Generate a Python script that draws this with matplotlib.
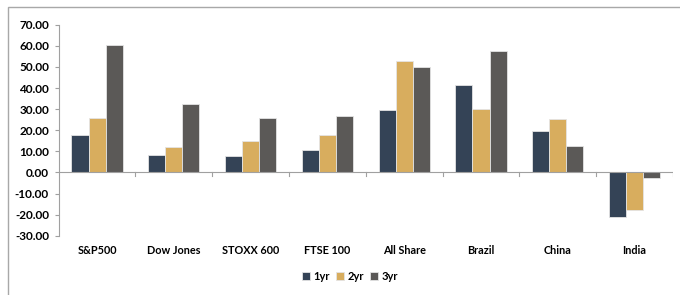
import matplotlib

matplotlib.use("Agg")
import matplotlib.pyplot as plt  # noqa: E402
import numpy as np  # noqa: E402
from matplotlib.patches import Rectangle  # noqa: E402

CATEGORIES = ["S&P500", "Dow Jones", "STOXX 600", "FTSE 100", "All Share", "Brazil", "China", "India"]
SERIES = ["1yr", "2yr", "3yr"]
ONE_YR = [17.8, 8.2, 7.7, 10.7, 29.6, 41.3, 19.6, -21.2]
TWO_YR = [25.9, 12.2, 14.7, 17.8, 52.7, 30.2, 25.3, -17.9]
THREE_YR = [60.3, 32.3, 25.8, 26.7, 49.8, 57.4, 12.3, -2.7]
YTICKS = [-30, -20, -10, 0, 10, 20, 30, 40, 50, 60, 70]
COLORS = ["#344356", "#D8AD5E", "#5B5957"]

plt.rcParams["font.family"] = ["Lato", "DejaVu Sans"]

W, H = 680, 295
fig = plt.figure(figsize=(W / 100, H / 100), dpi=100)
ax = fig.add_axes([58.7 / W, 1 - 235.7 / H, (673 - 58.7) / W, (235.7 - 24.8) / H])

x = np.arange(len(CATEGORIES))
w = 1 / 4.5
for i, (vals, lab) in enumerate(zip([ONE_YR, TWO_YR, THREE_YR], SERIES)):
    ax.bar(x + (i - 1) * w, vals, w, color=COLORS[i], label=lab,
           edgecolor="#e4e4e4", linewidth=0.6, zorder=2)

ax.set_xlim(-0.5, len(CATEGORIES) - 0.5)
ax.set_ylim(-30, 70)
ax.set_yticks(YTICKS)
ax.set_yticklabels([f"{v:.2f}" for v in YTICKS], fontsize=8.5, fontweight="bold")
ax.tick_params(axis="y", length=3, color="#a0a0a0", pad=4)

for s in ["top", "right", "bottom"]:
    ax.spines[s].set_visible(False)
ax.spines["left"].set_color("#a0a0a0")
ax.spines["left"].set_linewidth(0.8)
ax.axhline(0, color="#a0a0a0", lw=0.8, zorder=3)
ax.set_xticks([])
for b in np.arange(0.5, len(CATEGORIES), 1.0):
    ax.plot([b, b], [0, -1.5], color="#a0a0a0", lw=0.8, zorder=3)
for xi, c in zip(x, CATEGORIES):
    ax.text(xi, -37.0, c, ha="center", va="center", fontsize=7.8, fontweight="bold")

ax.legend(loc="center", bbox_to_anchor=(350 / W, 1 - 276.7 / H), bbox_transform=fig.transFigure,
          ncol=3, frameon=False, prop={"weight": "bold", "size": 8},
          handlelength=0.7, handleheight=0.7, handletextpad=0.3, columnspacing=0.6)

fig.add_artist(Rectangle((8.3 / W, -0.1), 1.2, 1 - 7.3 / H + 0.1, transform=fig.transFigure,
                         fill=False, edgecolor="#a8a8a8", lw=1.0))

fig.savefig("out.png", dpi=100)
